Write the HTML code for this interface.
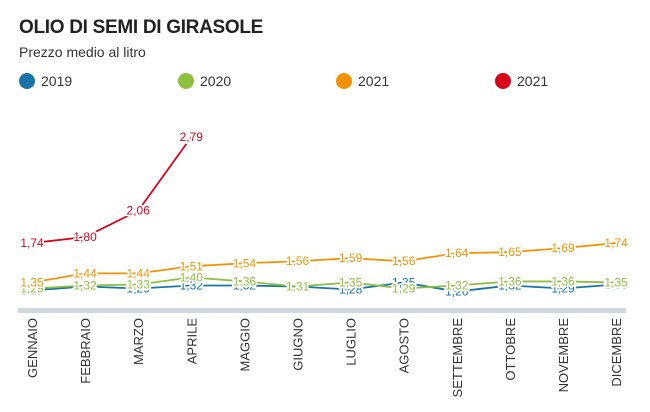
<!DOCTYPE html>
<html><head><meta charset="utf-8"><style>
body{margin:0;background:#fff;width:650px;height:407px;overflow:hidden}
svg{font-family:"Liberation Sans",sans-serif}
</style></head><body>
<svg id="c" width="650" height="407" xmlns="http://www.w3.org/2000/svg">
<text x="19" y="33" font-size="19" font-weight="bold" fill="#222" letter-spacing="-0.3">OLIO DI SEMI DI GIRASOLE</text>
<text x="19" y="57" font-size="14" fill="#333">Prezzo medio al litro</text>
<circle cx="27" cy="81" r="8" fill="#1a75a8"/><text x="41" y="86" font-size="14" fill="#333">2019</text>
<circle cx="186" cy="81" r="8" fill="#8dc03f"/><text x="200" y="86" font-size="14" fill="#333">2020</text>
<circle cx="344" cy="81" r="8" fill="#f39200"/><text x="358" y="86" font-size="14" fill="#333">2021</text>
<circle cx="503" cy="81" r="8" fill="#d7041c"/><text x="517" y="86" font-size="14" fill="#333">2021</text>
<rect x="18" y="308" width="608" height="5" fill="#cfd8dc"/>
</svg>
<script>
var s=document.getElementById('c'),NS='http://www.w3.org/2000/svg';
function X(i){return 32+i*53.1}function Y(v){return 237-(v-1.80)*101}
var months=['GENNAIO','FEBBRAIO','MARZO','APRILE','MAGGIO','GIUGNO','LUGLIO','AGOSTO','SETTEMBRE','OTTOBRE','NOVEMBRE','DICEMBRE'];
var series=[
['#1a75a8',[1.27,1.31,1.29,1.32,1.32,1.31,1.28,1.35,1.26,1.32,1.29,1.33]],
['#8dc03f',[1.29,1.32,1.33,1.40,1.36,1.31,1.35,1.29,1.32,1.36,1.36,1.35]],
['#f39200',[1.35,1.44,1.44,1.51,1.54,1.56,1.59,1.56,1.64,1.65,1.69,1.74]],
['#d7041c',[1.74,1.80,2.06,2.79]]];
function el(n,a,t){var e=document.createElementNS(NS,n);for(var k in a)e.setAttribute(k,a[k]);if(t)e.textContent=t;s.appendChild(e);return e}
series.forEach(function(se){
 var p=se[1].map(function(v,i){return X(i)+','+Y(v)}).join(' ');
 el('polyline',{points:p,fill:'none',stroke:se[0],'stroke-width':1.8});
});
series.forEach(function(se){
 se[1].forEach(function(v,i){
  el('text',{x:X(i),y:Y(v)+4,'font-size':12,'text-anchor':'middle',fill:se[0],stroke:'#fff','stroke-width':3.5,'stroke-linejoin':'round','paint-order':'stroke'},v.toFixed(2).replace('.',','));
 });
});
months.forEach(function(m,i){
 el('text',{x:0,y:0,'font-size':13,fill:'#333','text-anchor':'end',transform:'translate('+(X(i)+5)+',318) rotate(-90)'},m);
});
</script>
</body></html>
